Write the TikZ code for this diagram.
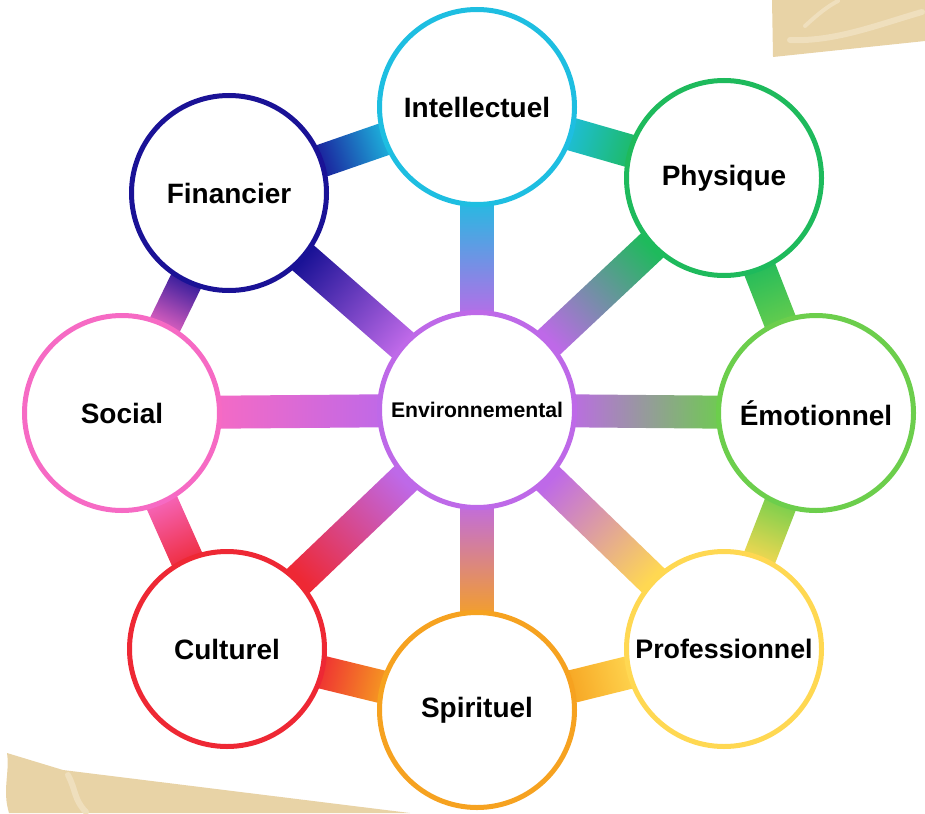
\documentclass[tikz,border=0pt]{standalone}
\usepackage{fontspec}
\setsansfont{Liberation Sans}
\usepackage{tikz}
\usepackage{xcolor}
\usetikzlibrary{calc,backgrounds}

\definecolor{envc}{RGB}{190,105,232}
\definecolor{intelc}{RGB}{30,190,225}
\definecolor{physc}{RGB}{30,186,92}
\definecolor{emoc}{RGB}{108,206,76}
\definecolor{profc}{RGB}{255,216,82}
\definecolor{spirc}{RGB}{246,162,32}
\definecolor{cultc}{RGB}{238,40,52}
\definecolor{socc}{RGB}{246,106,196}
\definecolor{finc}{RGB}{26,18,150}
\definecolor{paper}{RGB}{232,211,166}
\definecolor{paperlight}{RGB}{239,223,189}

\begin{document}
\begin{tikzpicture}[x=0.5pt, y=-0.5pt,
    wheel/.style={circle, draw=#1, line width=2.5pt, fill=white, minimum size=97.5pt, inner sep=0pt, text=black, font=\sffamily\bfseries\fontsize{14}{16}\selectfont},
    band/.style={inner sep=0pt, outer sep=0pt, minimum height=16.5pt}]

    \useasboundingbox (0,0) rectangle (925,813);

    % paper corners
    \fill[paper] (772,0) -- (925,0) -- (925,41) -- (773,57) -- cycle;
    \draw[paperlight, line width=3pt, line cap=round] (790,40) .. controls (835,42) and (880,24) .. (922,12);
    \draw[paperlight, line width=2pt, line cap=round] (805,26) .. controls (818,14) and (828,6) .. (838,1);
    \fill[paper] (7,753) -- (63,770) -- (410,813) -- (9,813) .. controls (2,790) and (10,772) .. (7,753);
    \draw[paperlight, line width=3pt, line cap=round] (68,775) .. controls (76,790) and (74,800) .. (86,812);

    % circles
    \node[wheel=envc, font=\sffamily\bfseries\fontsize{10.6}{12}\selectfont] (env) at (477,410) {Environnemental};
    \node[wheel=intelc] (intel) at (477,107) {Intellectuel};
    \node[wheel=physc] (phys) at (724,178) {Physique};
    \node[wheel=emoc] (emo) at (816,413) {Émotionnel};
    \node[wheel=profc, font=\sffamily\bfseries\fontsize{13.4}{15}\selectfont] (prof) at (724,649) {Professionnel};
    \node[wheel=spirc] (spir) at (477,710) {Spirituel};
    \node[wheel=cultc] (cult) at (227,649) {Culturel};
    \node[wheel=socc] (soc) at (122,413) {Social};
    \node[wheel=finc] (fin) at (229,193) {Financier};

    \begin{pgfonlayer}{background}
    % spokes
    \path let \p1=($(intel)-(env)$) in node[band, rotate={atan2(\y1,\x1)}, minimum width={veclen(\x1,\y1)-88}, top color=envc, bottom color=intelc, shading angle={atan2(\y1,\x1)+90}] (s1) at ($(env)!0.5!(intel)$) {};
    \path let \p1=($(phys)-(env)$) in node[band, rotate={atan2(\y1,\x1)}, minimum width={veclen(\x1,\y1)-88}, top color=envc, bottom color=physc, shading angle={atan2(\y1,\x1)+90}] (s2) at ($(env)!0.5!(phys)$) {};
    \path let \p1=($(emo)-(env)$) in node[band, rotate={atan2(\y1,\x1)}, minimum width={veclen(\x1,\y1)-88}, top color=envc, bottom color=emoc, shading angle={atan2(\y1,\x1)+90}] (s3) at ($(env)!0.5!(emo)$) {};
    \path let \p1=($(prof)-(env)$) in node[band, rotate={atan2(\y1,\x1)}, minimum width={veclen(\x1,\y1)-88}, top color=envc, bottom color=profc, shading angle={atan2(\y1,\x1)+90}] (s4) at ($(env)!0.5!(prof)$) {};
    \path let \p1=($(spir)-(env)$) in node[band, rotate={atan2(\y1,\x1)}, minimum width={veclen(\x1,\y1)-88}, top color=envc, bottom color=spirc, shading angle={atan2(\y1,\x1)+90}] (s5) at ($(env)!0.5!(spir)$) {};
    \path let \p1=($(cult)-(env)$) in node[band, rotate={atan2(\y1,\x1)}, minimum width={veclen(\x1,\y1)-88}, top color=envc, bottom color=cultc, shading angle={atan2(\y1,\x1)+90}] (s6) at ($(env)!0.5!(cult)$) {};
    \path let \p1=($(soc)-(env)$) in node[band, rotate={atan2(\y1,\x1)}, minimum width={veclen(\x1,\y1)-88}, top color=envc, bottom color=socc, shading angle={atan2(\y1,\x1)+90}] (s7) at ($(env)!0.5!(soc)$) {};
    \path let \p1=($(fin)-(env)$) in node[band, rotate={atan2(\y1,\x1)}, minimum width={veclen(\x1,\y1)-88}, top color=envc, bottom color=finc, shading angle={atan2(\y1,\x1)+90}] (s8) at ($(env)!0.5!(fin)$) {};
    % ring
    \path let \p1=($(intel)-(fin)$) in node[band, rotate={atan2(\y1,\x1)}, minimum width={veclen(\x1,\y1)-88}, top color=finc, bottom color=intelc, shading angle={atan2(\y1,\x1)+90}] (r1) at ($(fin)!0.5!(intel)$) {};
    \path let \p1=($(phys)-(intel)$) in node[band, rotate={atan2(\y1,\x1)}, minimum width={veclen(\x1,\y1)-88}, top color=intelc, bottom color=physc, shading angle={atan2(\y1,\x1)+90}] (r2) at ($(intel)!0.5!(phys)$) {};
    \path let \p1=($(emo)-(phys)$) in node[band, rotate={atan2(\y1,\x1)}, minimum width={veclen(\x1,\y1)-88}, top color=physc, bottom color=emoc, shading angle={atan2(\y1,\x1)+90}] (r3) at ($(phys)!0.5!(emo)$) {};
    \path let \p1=($(prof)-(emo)$) in node[band, rotate={atan2(\y1,\x1)}, minimum width={veclen(\x1,\y1)-88}, top color=emoc, bottom color=profc, shading angle={atan2(\y1,\x1)+90}] (r4) at ($(emo)!0.5!(prof)$) {};
    \path let \p1=($(spir)-(prof)$) in node[band, rotate={atan2(\y1,\x1)}, minimum width={veclen(\x1,\y1)-88}, top color=profc, bottom color=spirc, shading angle={atan2(\y1,\x1)+90}] (r5) at ($(prof)!0.5!(spir)$) {};
    \path let \p1=($(cult)-(spir)$) in node[band, rotate={atan2(\y1,\x1)}, minimum width={veclen(\x1,\y1)-88}, top color=spirc, bottom color=cultc, shading angle={atan2(\y1,\x1)+90}] (r6) at ($(spir)!0.5!(cult)$) {};
    \path let \p1=($(soc)-(cult)$) in node[band, rotate={atan2(\y1,\x1)}, minimum width={veclen(\x1,\y1)-88}, top color=cultc, bottom color=socc, shading angle={atan2(\y1,\x1)+90}] (r7) at ($(cult)!0.5!(soc)$) {};
    \path let \p1=($(fin)-(soc)$) in node[band, rotate={atan2(\y1,\x1)}, minimum width={veclen(\x1,\y1)-88}, top color=socc, bottom color=finc, shading angle={atan2(\y1,\x1)+90}] (r8) at ($(soc)!0.5!(fin)$) {};
    \end{pgfonlayer}
\end{tikzpicture}
\end{document}
